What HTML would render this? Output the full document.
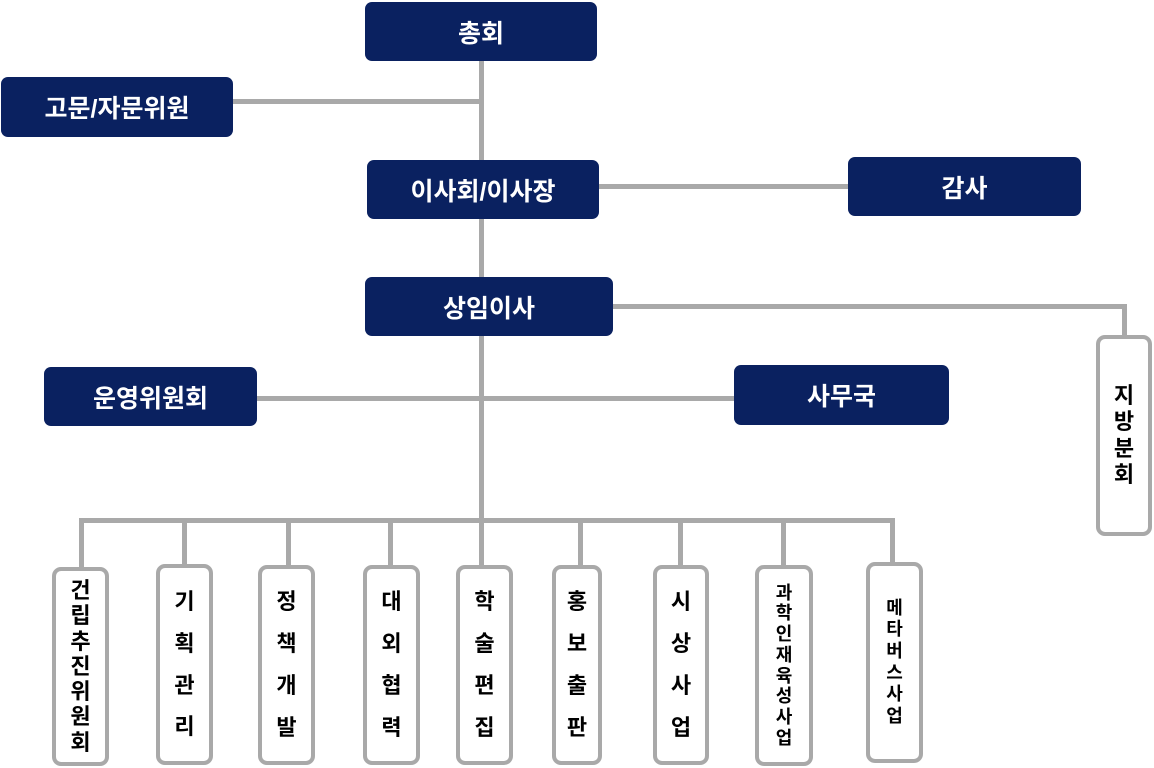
<!DOCTYPE html>
<html><head><meta charset="utf-8"><style>
body{margin:0;width:1154px;height:768px;background:#fff;position:relative;overflow:hidden;font-family:"Liberation Sans","Noto Sans CJK KR","NanumGothic",sans-serif;}
.n{position:absolute;background:#0a2160;color:#fff;border-radius:7px;display:flex;align-items:center;justify-content:center;font-weight:bold;font-size:25px;}
.l{position:absolute;background:#a9a9a9;}
.v{position:absolute;box-sizing:border-box;border:4px solid #a9a9a9;border-radius:9px;background:#fff;display:flex;flex-direction:column;align-items:center;justify-content:center;font-weight:bold;font-size:22px;color:#000;line-height:1.1;}
.v span{display:block;}
</style></head><body>
<div class="l" style="left:479px;top:60px;width:5px;height:462px"></div>
<div class="l" style="left:232px;top:99px;width:250px;height:5px"></div>
<div class="l" style="left:598px;top:184px;width:252px;height:5px"></div>
<div class="l" style="left:612px;top:304px;width:515px;height:5px"></div>
<div class="l" style="left:1122px;top:304px;width:5px;height:34px"></div>
<div class="l" style="left:256px;top:396px;width:480px;height:5px"></div>
<div class="l" style="left:79px;top:518px;width:816px;height:5px"></div>
<div class="l" style="left:79px;top:518px;width:5px;height:52px"></div>
<div class="l" style="left:182px;top:518px;width:5px;height:50px"></div>
<div class="l" style="left:286px;top:518px;width:5px;height:50px"></div>
<div class="l" style="left:388px;top:518px;width:5px;height:50px"></div>
<div class="l" style="left:479px;top:518px;width:5px;height:50px"></div>
<div class="l" style="left:578px;top:518px;width:5px;height:50px"></div>
<div class="l" style="left:678px;top:518px;width:5px;height:50px"></div>
<div class="l" style="left:781px;top:518px;width:5px;height:50px"></div>
<div class="l" style="left:890px;top:518px;width:5px;height:50px"></div>

<div class="n" style="left:365px;top:2px;width:232px;height:59px">총회</div>
<div class="n" style="left:1px;top:77px;width:232px;height:60px">고문/자문위원</div>
<div class="n" style="left:367px;top:160px;width:232px;height:59px">이사회/이사장</div>
<div class="n" style="left:848px;top:157px;width:233px;height:59px">감사</div>
<div class="n" style="left:365px;top:277px;width:248px;height:59px">상임이사</div>
<div class="n" style="left:44px;top:367px;width:213px;height:59px">운영위원회</div>
<div class="n" style="left:734px;top:365px;width:215px;height:60px">사무국</div>

<div class="v" style="left:1096px;top:335px;width:56px;height:201px;line-height:1.2"><span>지</span><span>방</span><span>분</span><span>회</span></div>

<div class="v" style="left:52px;top:567px;width:57px;height:199px;line-height:1.15"><span>건</span><span>립</span><span>추</span><span>진</span><span>위</span><span>원</span><span>회</span></div>
<div class="v" style="left:156px;top:564px;width:57px;height:201px;line-height:1.9"><span>기</span><span>획</span><span>관</span><span>리</span></div>
<div class="v" style="left:258px;top:565px;width:57px;height:200px;line-height:1.9"><span>정</span><span>책</span><span>개</span><span>발</span></div>
<div class="v" style="left:363px;top:565px;width:57px;height:200px;line-height:1.9"><span>대</span><span>외</span><span>협</span><span>력</span></div>
<div class="v" style="left:456px;top:565px;width:57px;height:200px;line-height:1.9"><span>학</span><span>술</span><span>편</span><span>집</span></div>
<div class="v" style="left:552px;top:565px;width:50px;height:200px;line-height:1.9"><span>홍</span><span>보</span><span>출</span><span>판</span></div>
<div class="v" style="left:653px;top:565px;width:56px;height:200px;line-height:1.9"><span>시</span><span>상</span><span>사</span><span>업</span></div>
<div class="v" style="left:755px;top:565px;width:58px;height:201px;font-size:18px;line-height:1.15"><span>과</span><span>학</span><span>인</span><span>재</span><span>육</span><span>성</span><span>사</span><span>업</span></div>
<div class="v" style="left:866px;top:562px;width:57px;height:201px;font-size:18px;line-height:1.2"><span>메</span><span>타</span><span>버</span><span>스</span><span>사</span><span>업</span></div>
</body></html>
